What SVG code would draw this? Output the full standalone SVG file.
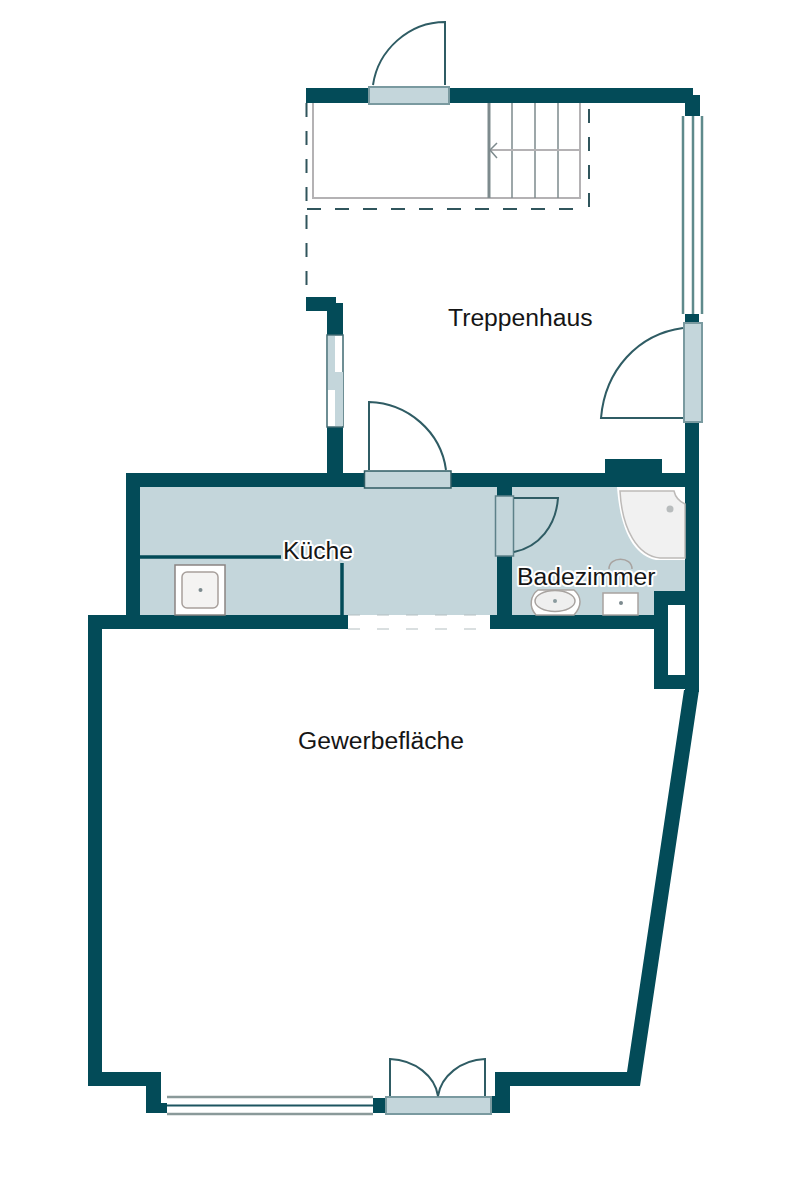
<svg xmlns="http://www.w3.org/2000/svg" width="786" height="1200" viewBox="0 0 786 1200">
<style>
.w{fill:#034b58}
.f{fill:#c4d6db}
.t{font-family:"Liberation Sans",Arial,sans-serif;font-size:24.700px;fill:#151515}
.h{paint-order:stroke;stroke:#fff;stroke-width:4px;stroke-linejoin:round}
.dn{fill:none;stroke:#2f5c64;stroke-width:2}
.dp{fill:#c4d6db;stroke:#7a9aa0;stroke-width:2}
.win{fill:none;stroke:#5f8a8c;stroke-width:2.500}
.st{fill:none;stroke:#b4b2b4;stroke-width:2}
.sd{fill:none;stroke:#7d8a8d}
.da{fill:none;stroke:#30555c;stroke-width:2;stroke-dasharray:14 14}
.fx{fill:#fff;stroke:#a8a3a0;stroke-width:1.500}
</style>
<rect width="786" height="1200" fill="#fff"/>
<g id="floors">
<rect class="f" x="140" y="487" width="357" height="128"/>
<rect class="f" x="512" y="487" width="173" height="104"/>
<rect class="f" x="512" y="590" width="142" height="25"/>
</g>
<g id="walls">
<rect class="w" x="306" y="88" width="387" height="15"/>
<rect class="w" x="685" y="95" width="15" height="21"/>
<path class="w" d="M306 297H336V303H343V336H327V311H306Z"/>
<rect class="w" x="327" y="427" width="16" height="48"/>
<rect class="w" x="126" y="473" width="560" height="14"/>
<rect class="w" x="605" y="459" width="57" height="14"/>
<rect class="w" x="685" y="314" width="14" height="10"/>
<rect class="w" x="685" y="422" width="14" height="270"/>
<rect class="w" x="126" y="473" width="14" height="143"/>
<rect class="w" x="88" y="615" width="260" height="14"/>
<rect class="w" x="490" y="615" width="165" height="14"/>
<rect class="w" x="497" y="487" width="15" height="10"/>
<rect class="w" x="497" y="556" width="15" height="60"/>
<path class="w" d="M654 591H699V605H668V675H699V689H654Z"/>
<path class="w" d="M88 615H102V1072H161V1113H146V1086H88Z"/>
<path class="w" d="M495 1072H627L684 690H699L640 1086H510V1113H491V1096H495Z"/>
<rect class="w" x="373" y="1098" width="13" height="15"/>
<rect class="w" x="161" y="1103" width="6" height="10"/>
</g>
<g id="stairs">
<path class="st" d="M313 103V198H580V103"/>
<path class="sd" d="M489 103V198" stroke-width="3"/>
<path class="sd" d="M512 103V198M535 103V198M558 103V198" stroke-width="1.500"/>
<path class="st" d="M580 150H491"/>
<path class="sd" d="M497 143L490 150L497 158" stroke-width="1.500"/>
<path class="da" d="M307 209H580"/>
<path class="da" d="M306.500 103V290"/>
<path class="da" d="M589 109V208"/>
</g>
<g id="windows">
<path class="win" d="M683 116V314M693 116V314M702 116V314"/>
<rect x="327" y="335" width="16" height="92" fill="#fff" stroke="#3f6a72" stroke-width="1.500"/>
<rect x="328" y="336" width="7" height="54" fill="#c4d6db"/>
<rect x="335" y="372" width="8" height="54" fill="#c4d6db"/>
<rect x="669" y="605" width="16" height="69" fill="#fff"/>
<rect x="167" y="1096" width="206" height="19" fill="#fff"/>
<path d="M167 1097H373M167 1114H373" stroke="#8a9a9a" stroke-width="2.500" fill="none"/>
<path d="M167 1105.500H373" stroke="#1c5560" stroke-width="2" fill="none"/>
<rect x="348" y="615" width="142" height="14" fill="#fff"/>
<path d="M348 615H490M348 629H490" stroke="#b4bfc1" stroke-width="1" stroke-dasharray="12 17" fill="none"/>
</g>
<g id="doors">
<rect class="dp" x="369" y="87" width="80" height="17"/>
<path class="dn" d="M445 85V22C409 22 378 50 373 85"/>
<rect class="dp" x="684" y="323" width="18" height="99"/>
<path class="dn" d="M683 328C638 334 605 370 601 418H683"/>
<path d="M364.500 471H451V488H364.500Z" fill="#c4d6db" stroke="#2f5c64" stroke-width="1.500"/>
<path class="dn" d="M369 470V402C408 403 441 432 446 470"/>
<rect x="495.500" y="496" width="18" height="60" fill="#c4d6db" stroke="#5d8189" stroke-width="1.500"/>
<path class="dn" d="M514 498H558C556 526 539 547 514 552"/>
<rect class="dp" x="386" y="1097" width="105" height="17"/>
<path class="dn" d="M390 1096V1059C415 1060 435 1076 438 1096C441 1076 461 1060 485 1059V1096"/>
</g>
<g id="fixtures">
<rect x="175" y="565" width="50" height="50" fill="#fff" stroke="#8a8482" stroke-width="1.500"/>
<rect x="182" y="572" width="36" height="36" rx="5" fill="#f4f3f2" stroke="#a8a09c" stroke-width="1.500"/>
<circle cx="200.500" cy="590" r="2" fill="#7c8a8e"/>
<path d="M140 557H281" stroke="#034b58" stroke-width="3.500" fill="none"/>
<path d="M342 563V615" stroke="#034b58" stroke-width="3.500" fill="none"/>
<path d="M617 487H685V560H656C634 556 620 530 617 487Z" fill="#fff"/>
<path d="M620 491H674Q676 500 685 504V558H660C638 556 622 530 620 491Z" fill="#f1f1f1" stroke="#bdbab8" stroke-width="1.500"/>
<circle cx="670" cy="509" r="3.500" fill="#b8bcbd"/>
<path d="M609 569C609 556 632 556 632 569" fill="#c4d6db" stroke="#a8a3a0" stroke-width="1.500"/>
<path d="M536 615C528 606 531 595 538 590H574C582 597 582 606 574 615Z" class="fx"/>
<ellipse cx="555" cy="601" rx="20" ry="10.500" fill="#efefef" stroke="#a8a3a0" stroke-width="1.500"/>
<circle cx="555" cy="601" r="2" fill="#8a9a9e"/>
<rect x="603" y="593" width="35" height="22" class="fx"/>
<circle cx="621" cy="603" r="2" fill="#7c8a8e"/>
</g>
<g id="labels">
<text class="t" x="448" y="326">Treppenhaus</text>
<text class="t h" x="283" y="559">Küche</text>
<text class="t h" x="517" y="585">Badezimmer</text>
<text class="t" x="298" y="749">Gewerbefläche</text>
</g>
</svg>
